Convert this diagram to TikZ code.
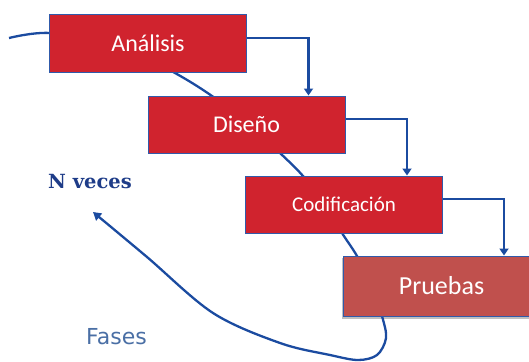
\documentclass[tikz,border=0pt]{standalone}
\usepackage{fontspec}
\newfontfamily\carlito{Carlito}
\newfontfamily\dvserif{DejaVu Serif}
\newfontfamily\dvsans{DejaVu Sans}
\usetikzlibrary{arrows.meta,backgrounds}
\definecolor{boxred}{RGB}{208,35,46}
\definecolor{prured}{RGB}{192,80,77}
\definecolor{bordblue}{RGB}{48,90,170}
\definecolor{curveblue}{RGB}{27,75,160}
\definecolor{nblue}{RGB}{30,60,136}
\definecolor{fasesblue}{RGB}{74,111,165}
\tikzset{
  box/.style={draw=bordblue, line width=1pt, fill=boxred, minimum width=197pt,
    minimum height=57pt, inner sep=0pt, text=white, text depth=0pt},
  flow/.style={draw=curveblue, line width=2.3pt, -{Triangle[width=9pt,length=7pt]}},
  loopline/.style={draw=curveblue, line width=2.3pt},
}
\begin{document}
\begin{tikzpicture}[x=1pt,y=-1pt]
\useasboundingbox (0,0) rectangle (529,361);
\node[box, font=\carlito\fontsize{24}{24}\selectfont, text height=15.5pt] (ana) at (148,43.5) {Análisis};
\node[box, font=\carlito\fontsize{24}{24}\selectfont, text height=15.5pt] (dis) at (246.5,124.5) {Diseño};
\node[box, font=\carlito\fontsize{21}{21}\selectfont, text height=13.5pt] (cod) at (344,204.5) {Codificación};
\node[box, fill=prured, minimum height=60pt, font=\carlito\fontsize{26}{26}\selectfont, text height=16.7pt] (pru) at (441.5,286) {Pruebas};
\begin{scope}[on background layer]
  \fill[black!25] ([xshift=-1pt,yshift=-2pt]pru.south west) rectangle ([xshift=1pt,yshift=-2pt]pru.north east);
  \coordinate (cstart) at (9,38);
  \coordinate (ctip) at (93,212);
  \draw[loopline, -{Triangle[width=9pt,length=8pt]}] plot[smooth, tension=0.55] coordinates {
    (9,38) (50,33) (120,45) (175,73) (212,96) (250,125) (280,153) (303,176)
    (325,205) (342,233) (357,256) (372,285) (382,316) (386,338) (377,355)
    (358,360) (330,355) (280,343) (213,313) (147,257) (93,212)};
\end{scope}
\draw[flow] ([yshift=5.5pt]ana.east) -| ([xshift=62pt]dis.north);
\draw[flow] ([yshift=5.5pt]dis.east) -| ([xshift=63pt]cod.north);
\draw[flow] ([yshift=5.5pt]cod.east) -| ([xshift=62.5pt]pru.north);
\node[anchor=base west, inner sep=0pt, text=nblue, font=\dvserif\bfseries\fontsize{19.5}{19.5}\selectfont] (nveces) at (48,188) {N veces};
\node[anchor=base west, inner sep=0pt, text=fasesblue, font=\dvsans\fontsize{22}{22}\selectfont] (fases) at (86,344) {Fases};
\end{tikzpicture}
\end{document}
